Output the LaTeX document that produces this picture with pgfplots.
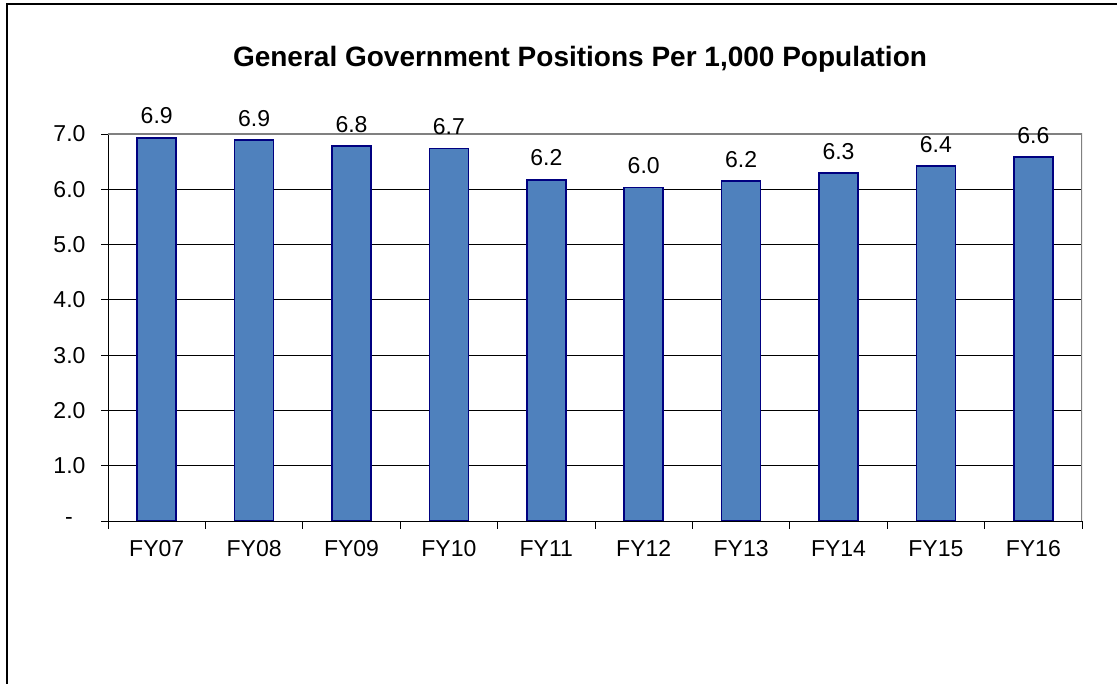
\documentclass[border=0pt]{standalone}
\usepackage{fontspec}
\setmainfont{Liberation Sans}
\usepackage{pgfplots}
\pgfplotsset{compat=1.18}
\definecolor{barfill}{RGB}{79,129,189}
\definecolor{baredge}{RGB}{0,0,128}
\begin{document}
\begin{tikzpicture}[x=1pt,y=1pt]
\path[use as bounding box] (0,0) rectangle (1117,684);
\draw[line width=2pt] (7,0) -- (7,679.5) -- (1117,679.5);
\begin{axis}[
  at={(108pt,163pt)}, anchor=south west,
  scale only axis, width=974pt, height=387pt,
  xmin=0.5, xmax=10.5, ymin=0, ymax=7,
  axis lines*=left,
  axis line style={black, line width=0.9pt},
  ytick={0,1,...,7},
  yticklabels={\hphantom{0}-\hphantom{0},1.0,2.0,3.0,4.0,5.0,6.0,7.0},
  xtick={1,...,10},
  xticklabels={FY07,FY08,FY09,FY10,FY11,FY12,FY13,FY14,FY15,FY16},
  minor xtick={0.5,1.5,...,10.5},
  x tick style={draw=none},
  minor x tick style={draw=black, line width=0.8pt},
  y tick style={black, line width=0.8pt},
  tick align=outside,
  major tick length=7pt,
  minor tick length=8pt,
  ymajorgrids,
  grid style={black, line width=0.7pt},
  tick label style={font=\fontsize{23}{27}\selectfont},
  yticklabel style={xshift=-12pt},
  xticklabel style={yshift=-9pt},
  title={General Government Positions Per 1,000 Population},
  title style={at={(0.5,1)}, anchor=center, yshift=69pt, xshift=-15pt,
    font=\bfseries\fontsize{28}{32}\selectfont},
  ybar, bar width=0.4,
  nodes near coords,
  /pgf/number format/assume math mode=true,
  /pgf/number format/fixed, /pgf/number format/precision=1,
  /pgf/number format/fixed zerofill,
  every node near coord/.append style={font=\fontsize{23}{27}\selectfont,
    anchor=south, inner sep=0pt, yshift=13pt, text=black},
]
\addplot[fill=barfill, draw=baredge, line width=1.5pt] coordinates {
  (1,6.93) (2,6.89) (3,6.78) (4,6.74) (5,6.17)
  (6,6.03) (7,6.15) (8,6.29) (9,6.42) (10,6.58)
};
\draw[gray, line width=1.2pt] (rel axis cs:0,1) -- (rel axis cs:1,1) -- (rel axis cs:1,0);
\end{axis}
\end{tikzpicture}
\end{document}
